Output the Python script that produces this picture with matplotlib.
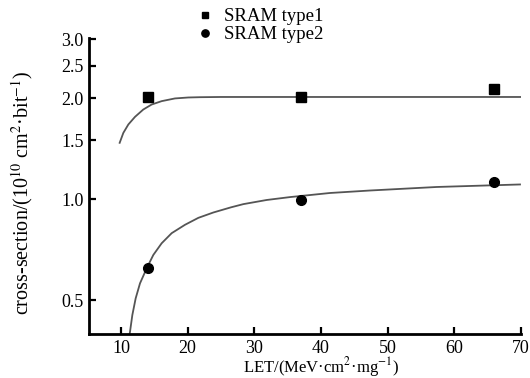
import matplotlib
matplotlib.use("Agg")
import matplotlib.pyplot as plt
from matplotlib.ticker import FixedLocator, FixedFormatter, NullLocator

plt.rcParams['font.family'] = ['Liberation Serif', 'DejaVu Serif']
plt.rcParams['mathtext.fontset'] = 'stix'

# measured data points
let_pts = [14, 37, 66]
type1_pts = [2.02, 2.02, 2.14]
type2_pts = [0.622, 0.997, 1.123]

# fitted curves
fit1_x = [9.80, 10.35, 11.1, 12.1, 13.34, 14.6, 16.1, 18.1, 20.1, 21.85, 25, 30, 40, 50, 60, 70]
fit1_y = [1.474, 1.578, 1.672, 1.762, 1.853, 1.918, 1.963, 2.0, 2.013, 2.017, 2.02, 2.02, 2.02, 2.02, 2.02, 2.02]
fit2_x = [11.25, 11.35, 11.7, 12.2, 12.85, 13.85, 14.85, 16.1, 17.6, 19.6, 21.6, 23.85, 26.5, 28.35,
          31.85, 35.35, 41.35, 47.35, 57.35, 69.85]
fit2_y = [0.39, 0.402, 0.451, 0.506, 0.561, 0.622, 0.682, 0.739, 0.792, 0.839, 0.880, 0.913, 0.946, 0.967,
          0.995, 1.015, 1.044, 1.062, 1.088, 1.107]

xticks = [10, 20, 30, 40, 50, 60, 70]
yticks = [0.5, 1.0, 1.5, 2.0, 2.5, 3.0]
ytick_labels = ["0.5", "1.0", "1.5", "2.0", "2.5", "3.0"]

fig = plt.figure(figsize=(5.30, 3.78), dpi=100)
ax = fig.add_axes([89/530, 1-334/378, (521-89)/530, (334-38)/378])

ax.plot(fit1_x, fit1_y, color='#555555', lw=1.3, zorder=2)
ax.plot(fit2_x, fit2_y, color='#555555', lw=1.3, zorder=2)
ax.plot(let_pts, type1_pts, ls='none', marker='s', ms=6.5, color='black', label='SRAM type1', zorder=3)
ax.plot(let_pts, type2_pts, ls='none', marker='o', ms=7, color='black', label='SRAM type2', zorder=3)

ax.set_yscale('log')
ax.set_xlim(5.2, 70)
ax.set_ylim(0.396, 3.03)
ax.xaxis.set_major_locator(FixedLocator(xticks))
ax.yaxis.set_major_locator(FixedLocator(yticks))
ax.yaxis.set_major_formatter(FixedFormatter(ytick_labels))
ax.yaxis.set_minor_locator(NullLocator())
ax.xaxis.set_minor_locator(NullLocator())

for s in ['top', 'right']:
    ax.spines[s].set_visible(False)
for s in ['left', 'bottom']:
    ax.spines[s].set_linewidth(2.0)
ax.tick_params(direction='in', length=5, width=1.6, labelsize=13)
ax.tick_params(axis='x', pad=4)
ax.tick_params(axis='y', pad=4)

ax.set_xlabel('LET/(MeV·cm$^{2}$·mg$^{-1}$)', fontsize=12)
ax.xaxis.set_label_coords((321.5 - 89) / 432, -(355 - 334) / 296)
ax.set_ylabel('cross-section/(10$^{10}$ cm$^{2}$·bit$^{-1}$)', fontsize=14.5)
ax.yaxis.set_label_coords(-(89 - 35) / 432, (334 - 192.5) / 296)

ax.legend(loc='upper left', bbox_to_anchor=(196/530, 1-8/378), bbox_transform=fig.transFigure,
          frameon=False, borderaxespad=0, borderpad=0, handlelength=1.0, handletextpad=0.5,
          labelspacing=0.05, fontsize=13.5, markerscale=0.75)

fig.savefig('out.png', dpi=100)
